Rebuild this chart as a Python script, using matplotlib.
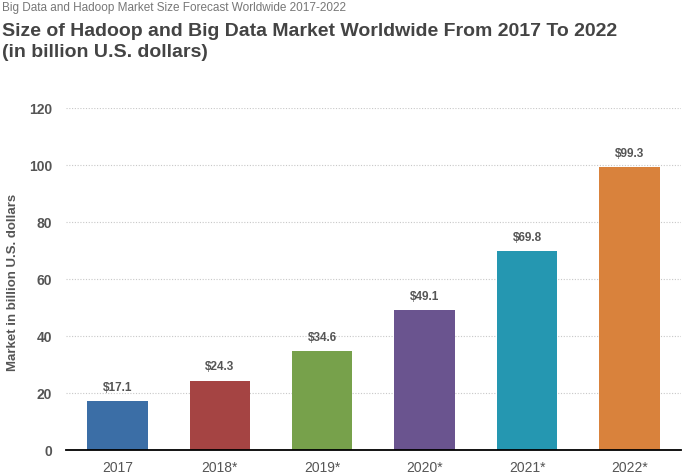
import matplotlib.pyplot as plt

years = ["2017", "2018*", "2019*", "2020*", "2021*", "2022*"]
market = [17.1, 24.3, 34.6, 49.1, 69.8, 99.3]
colors = ["#3b6ea6", "#a54443", "#77a14b", "#6a548f", "#2597b1", "#d9823c"]
yticks = [0, 20, 40, 60, 80, 100, 120]

plt.rcParams["font.family"] = ["Liberation Sans", "DejaVu Sans"]

fig = plt.figure(figsize=(6.85, 4.75), dpi=100)
ax = fig.add_axes([0.0964, 0.0526, 0.8976, 0.72])

x = list(range(len(years)))
ax.bar(x, market, width=0.59, color=colors, zorder=3)
for xi, v in zip(x, market):
    ax.text(xi, v + 2.6, f"${v}", ha="center", va="bottom", fontsize=8.5,
            fontweight="bold", color="#555555", zorder=4)

ax.set_xlim(-0.5, 5.5)
ax.set_ylim(0, 120)
ax.set_yticks(yticks)
ax.set_xticks(x)
ax.set_xticklabels(years, fontsize=10, color="#555555")
ax.tick_params(axis="y", labelsize=10, labelcolor="#555555", length=0, pad=10)
ax.tick_params(axis="x", length=0, pad=8)
for lab in ax.get_yticklabels():
    lab.set_fontweight("bold")

ax.grid(axis="y", linestyle=(0, (1, 1.5)), color="#c8c8c8", linewidth=0.8, zorder=0)
for s in ["top", "right", "left"]:
    ax.spines[s].set_visible(False)
ax.spines["bottom"].set_color("black")
ax.spines["bottom"].set_linewidth(1.3)
ax.spines["bottom"].set_zorder(5)

ax.set_ylabel("Market in billion U.S. dollars", fontsize=9.5, fontweight="bold",
              color="#555555")
ax.yaxis.set_label_coords(-0.076, 0.49)

fig.text(0.003, 0.983, "Big Data and Hadoop Market Size Forecast Worldwide 2017-2022",
         fontsize=8.5, color="#777777", va="center", ha="left")
fig.text(0.003, 0.933, "Size of Hadoop and Big Data Market Worldwide From 2017 To 2022",
         fontsize=14, fontweight="bold", color="#444444", va="center", ha="left")
fig.text(0.003, 0.889, "(in billion U.S. dollars)",
         fontsize=14, fontweight="bold", color="#444444", va="center", ha="left")

fig.savefig("out.png", dpi=100)
